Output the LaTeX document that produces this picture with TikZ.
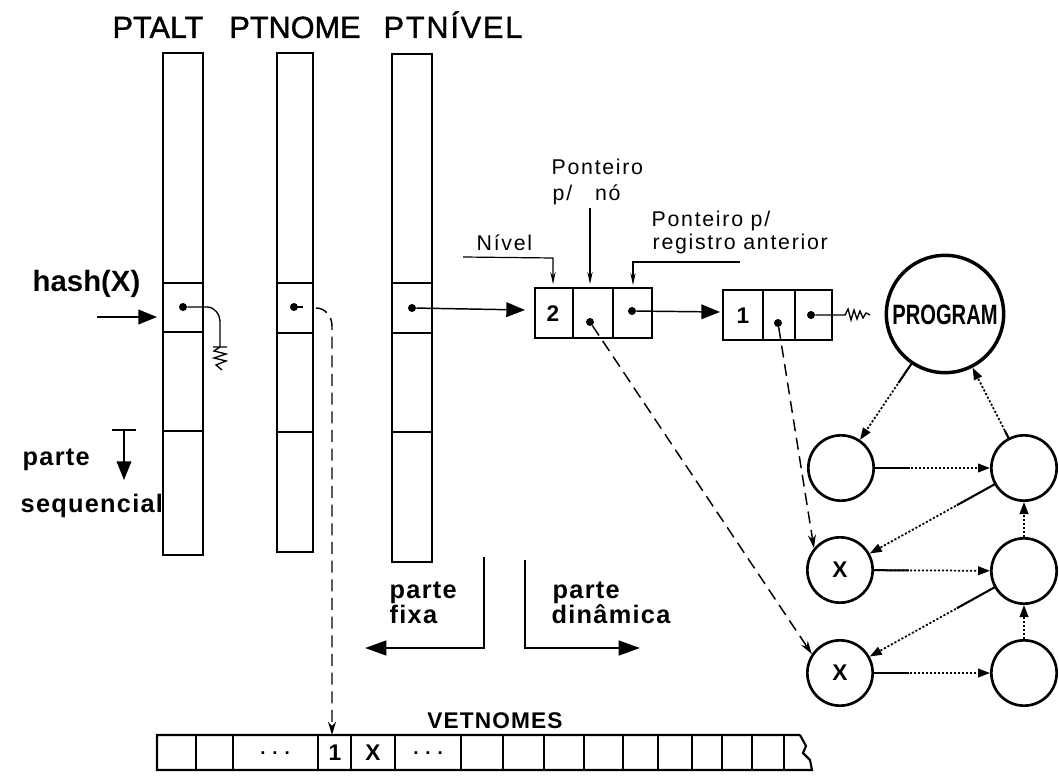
\documentclass[tikz,border=0pt]{standalone}
\usepackage{fontspec}
\usepackage{graphicx}
\setmainfont{Liberation Sans}
\newfontfamily\thinlab[LetterSpace=8]{Liberation Sans}
\newfontfamily\boldsp[LetterSpace=5]{Liberation Sans}
\newfontfamily\titlef[FakeBold=1.2]{Liberation Sans}
\newfontfamily\titlesp[FakeBold=1.2,LetterSpace=6]{Liberation Sans}
\usetikzlibrary{arrows.meta,calc}
\begin{document}
\begin{tikzpicture}[x=0.75pt,y=-0.75pt,
  box/.style={line width=2pt},
  thinbox/.style={line width=1.6pt},
  ptdot/.style={circle,fill,inner sep=0pt,minimum size=6pt},
  bigarrow/.style={line width=1.1pt,-{Triangle[length=14pt,width=11pt]}},
  leader/.style={line width=0.9pt,-{Stealth[length=9pt,width=4pt]}},
  dlink/.style={line width=1.1pt,dash pattern=on 9pt off 5pt,-{Stealth[length=10pt,width=6pt]}},
  dotlink/.style={line width=1.3pt,dash pattern=on 1.6pt off 1.4pt,-{Triangle[length=9pt,width=6.5pt]}},
  cnode/.style={circle,draw,line width=2pt,minimum size=49pt,inner sep=0pt},
  title/.style={font=\titlef\fontsize{23}{23}\selectfont,anchor=base},
  thin/.style={font=\thinlab\fontsize{16}{16}\selectfont,anchor=base west},
  boldl/.style={font=\boldsp\bfseries\fontsize{19}{19}\selectfont,anchor=base west},
  cellnum/.style={font=\bfseries\fontsize{17}{17}\selectfont}
]
\useasboundingbox (0,0) rectangle (1059,780);

% titles
\node[title] (tA) at (158,38) {PTALT};
\node[title] (tB) at (295,38) {PTNOME};
\node[title,font=\titlesp\fontsize{23}{23}\selectfont] (tC) at (453,38) {PTNÍVEL};

% columns
\draw[box] (163,53) rectangle (203,555);
\draw[box] (163,283) -- (203,283) (163,332) -- (203,332) (163,431) -- (203,431);
\draw[box] (277,53) rectangle (313,552);
\draw[box] (277,283) -- (313,283) (277,333) -- (313,333) (277,432) -- (313,432);
\draw[box] (392,54) rectangle (432,562);
\draw[box] (392,283) -- (432,283) (392,333) -- (432,333) (392,432) -- (432,432);

\node[ptdot] (aD) at (183,307) {};
\node[ptdot] (bD) at (294,307) {};
\node[ptdot] (cD) at (412,308) {};

% hash(X)
\node[font=\bfseries\fontsize{22}{22}\selectfont,anchor=base west] (hash) at (28,292) {hash(X)};
\coordinate (hashS) at (97,317);
\coordinate (hashE) at (157,317);
\draw[bigarrow] (hashS) -- (hashE);

% ground symbol from PTALT
\draw[line width=1pt] (aD) -- (207,307) to[out=0,in=90] (220,322) -- (220,347);
\draw[line width=1pt] (213,347) -- (227,347)
  (220,347) -- (214,351) -- (226,354) -- (214,358) -- (226,361) -- (216,365) -- (222,370);

% parte sequencial
\node[boldl] (parteS) at (18,465) {parte};
\node[boldl] (seq) at (16,512) {sequencial};
\coordinate (tbar) at (124,430);
\coordinate (tend) at (124,480);
\draw[line width=1.5pt] (112,430) -- (136,430);
\draw[bigarrow] (tbar) -- (tend);

% PTNOME dashed to VETNOMES
\coordinate (vet1) at (332,735);
\draw[line width=1pt] (bD) -- (303,307);
\draw[dlink] (316,308) to[out=0,in=90] (332,326) -- (vet1);

% record 1
\draw[box] (535,288) rectangle (652,338);
\draw[box] (573,288) -- (573,338) (613,288) -- (613,338);
\node[cellnum] (n2) at (553,314) {2};
\node[ptdot] (r1b) at (590,322) {};
\node[ptdot] (r1c) at (632,311) {};
\coordinate (r1in) at (525,310);
\draw[bigarrow] (cD) -- (r1in);

% record 2
\draw[box] (723,290) rectangle (832,340);
\draw[box] (763,290) -- (763,340) (795,290) -- (795,340);
\node[cellnum] (n1) at (743,316) {1};
\node[ptdot] (r2b) at (778,323) {};
\node[ptdot] (r2c) at (811,315) {};
\coordinate (r2in) at (720,312);
\draw[bigarrow] (r1c) -- (r2in);

% squiggle
\draw[line width=1pt] (r2c) -- (845,315) -- (848,309) -- (851,320) -- (854,310) -- (857,319) -- (860,311) -- (863,318) -- (866,313) -- (870,315);

% annotations
\node[thin] (pont1) at (547,175) {Ponteiro};
\node[thin] (pno) at (548,201) {p/\ \ \ nó};
\node[thin] (niv) at (472,251) {Nível};
\node[thin] (pont2) at (647,227) {Ponteiro p/};
\node[thin] (reg) at (648,250) {registro anterior};
\coordinate (lnA) at (553,284);
\coordinate (lnB) at (590,284);
\coordinate (lnC) at (633,285);
\draw[leader] (463,257) -- (553,258) -- (lnA);
\draw[leader] (590,208) -- (lnB);
\draw[leader] (740,262) -- (633,262) -- (lnC);

% PROGRAM and tree
\node[circle,draw,line width=2.6pt,minimum size=88pt,inner sep=0pt] (prog) at (945,314) {};
\node[font=\bfseries\fontsize{21}{21}\selectfont] (progt) at (945,315) {\scalebox{0.72}[1]{PROGRAM}};
\node[cnode] (c1) at (841,468) {};
\node[cnode] (c2) at (1024,468) {};
\node[cnode] (x1) at (840,570) {\bfseries\fontsize{17}{17}\selectfont X};
\node[cnode] (c3) at (1024,571) {};
\node[cnode] (x2) at (840,673) {\bfseries\fontsize{17}{17}\selectfont X};
\node[cnode] (c4) at (1024,673) {};

\newcommand\dotlk[3]{%
  \draw[dotlink] (#1) -- (#2);
  \path (#1) -- coordinate[pos=#3] (tmp#1#2) (#2);
  \draw[line width=1.5pt] (#1) -- (tmp#1#2);}
\dotlk{prog}{c1}{0.25}
\dotlk{c2}{prog}{0.1}
\dotlk{c1}{c2}{0.3}
\dotlk{c2}{x1}{0.3}
\dotlk{x1}{c3}{0.3}
\dotlk{c3}{c2}{0.05}
\dotlk{c3}{x2}{0.3}
\dotlk{x2}{c4}{0.3}
\dotlk{c4}{c3}{0.05}

% dashed pointers to X nodes
\draw[dlink] (r1b) -- (x2.146);
\draw[dlink] (r2b) -- (x1.140);

% parte fixa / dinamica
\node[boldl] (pf1) at (385,598) {parte};
\node[boldl] (pf2) at (385,623) {fixa};
\node[boldl] (pd1) at (548,598) {parte};
\node[boldl] (pd2) at (547,623) {dinâmica};
\coordinate (fixE) at (365,648);
\coordinate (dinE) at (640,648);
\draw[line width=1.8pt,-{Triangle[length=16pt,width=11pt]}] (484,557) -- (484,648) -- (fixE);
\draw[line width=1.8pt,-{Triangle[length=16pt,width=11pt]}] (525,560) -- (525,648) -- (dinE);

% VETNOMES
\node[font=\boldsp\bfseries\fontsize{17}{17}\selectfont,anchor=base] (vet) at (495,728) {VETNOMES};
\draw[thinbox] (800,735) -- (157,735) -- (157,770) -- (812,770) -- (810,760) -- (803,753) -- (806,746) -- (800,735);
\foreach \xx in {196,233,318,351,395,461,503,544,584,623,658,692,722,752,784}
  \draw[thinbox] (\xx,735) -- (\xx,770);
\node[font=\bfseries\fontsize{14}{14}\selectfont] (dd1) at (275,753) {. . .};
\node[cellnum] (v1) at (335,753) {1};
\node[cellnum] (vx) at (373,753) {X};
\node[font=\bfseries\fontsize{14}{14}\selectfont] (dd2) at (428,753) {. . .};
\end{tikzpicture}
\end{document}
